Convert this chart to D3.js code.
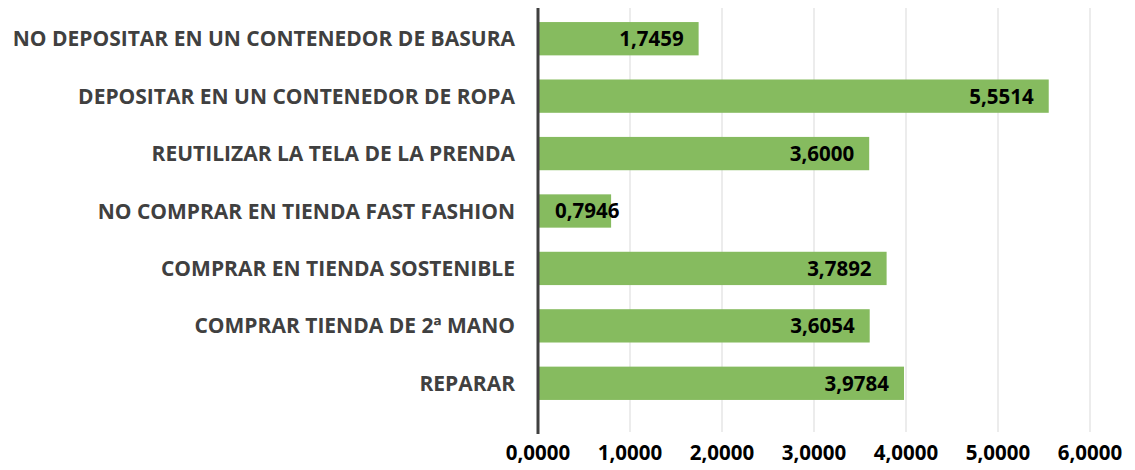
<!DOCTYPE html>
<meta charset="utf-8">
<style>
body { margin: 0; background: #fff; }
text { font-family: "Open Sans", "Liberation Sans", sans-serif; font-weight: bold; }
</style>
<svg width="1135" height="470"></svg>
<script src="https://d3js.org/d3.v7.min.js"></script>
<script>

var categories = [
  "NO DEPOSITAR EN UN CONTENEDOR DE BASURA",
  "DEPOSITAR EN UN CONTENEDOR DE ROPA",
  "REUTILIZAR LA TELA DE LA PRENDA",
  "NO COMPRAR EN TIENDA FAST FASHION",
  "COMPRAR EN TIENDA SOSTENIBLE",
  "COMPRAR TIENDA DE 2ª MANO",
  "REPARAR"
];
var values = [1.7459, 5.5514, 3.6000, 0.7946, 3.7892, 3.6054, 3.9784];
var ticks = [0, 1, 2, 3, 4, 5, 6];

var svg = d3.select("svg"),
    margin = {top: 10, right: 45, bottom: 48, left: 538},
    width = +svg.attr("width") - margin.left - margin.right,
    height = +svg.attr("height") - margin.top - margin.bottom,
    g = svg.append("g").attr("transform", "translate(" + margin.left + "," + margin.top + ")");

var fmt = function(v) { return v.toFixed(4).replace(".", ","); };

var x = d3.scaleLinear().domain([0, 6]).range([0, 552]);

var y = d3.scaleBand()
    .domain(categories)
    .range([0, height - 10])
    .paddingInner(0.42)
    .paddingOuter(0.21);

// gridlines
g.selectAll(".grid")
  .data(ticks.slice(1))
  .enter().append("line")
    .attr("x1", function(d) { return x(d); })
    .attr("x2", function(d) { return x(d); })
    .attr("y1", -2)
    .attr("y2", height + 10)
    .attr("stroke", "#d9d9d9")
    .attr("stroke-width", 1);

// bars
g.selectAll(".bar")
  .data(values)
  .enter().append("rect")
    .attr("x", 0)
    .attr("y", function(d, i) { return y(categories[i]); })
    .attr("width", function(d) { return x(d); })
    .attr("height", y.bandwidth())
    .attr("fill", "#86bb5f");

// value labels
g.selectAll(".val")
  .data(values)
  .enter().append("text")
    .attr("y", function(d, i) { return y(categories[i]) + y.bandwidth() / 2; })
    .attr("dy", "0.36em")
    .attr("font-size", 20.5)
    .attr("fill", "#000")
    .text(fmt)
    .each(function(d) {
      var w = this.getComputedTextLength();
      var end = x(d) - 15;
      if (end - w < 17) end = 17 + w;
      d3.select(this).attr("x", end - w);
    });

// y axis line
g.append("line")
    .attr("x1", 0).attr("x2", 0)
    .attr("y1", -2).attr("y2", height + 12)
    .attr("stroke", "#404040")
    .attr("stroke-width", 3);

// category labels
g.selectAll(".cat")
  .data(categories)
  .enter().append("text")
    .attr("x", -23)
    .attr("y", function(d) { return y(d) + y.bandwidth() / 2; })
    .attr("dy", "0.36em")
    .attr("text-anchor", "end")
    .attr("font-size", 21)
    .attr("fill", "#404040")
    .text(function(d) { return d; });

// x tick labels
g.selectAll(".tick")
  .data(ticks)
  .enter().append("text")
    .attr("x", function(d) { return x(d); })
    .attr("y", height + 38)
    .attr("text-anchor", "middle")
    .attr("font-size", 20.5)
    .attr("fill", "#000")
    .text(fmt);

</script>
